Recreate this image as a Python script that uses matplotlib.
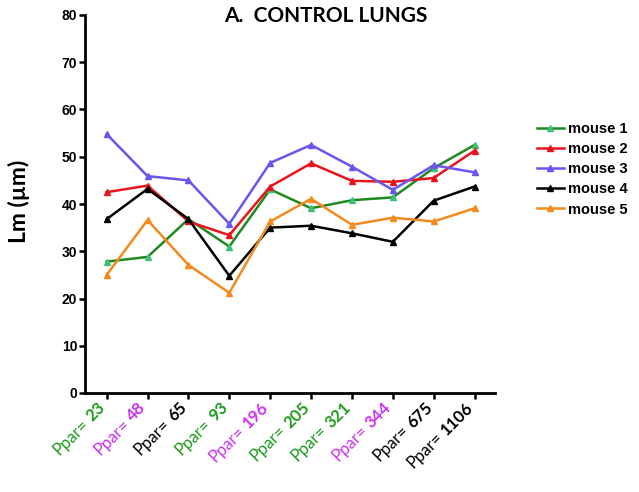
import numpy as np
from matplotlib import pyplot as plt

# Ppar values along the x axis, and the colour each label gets
ppar = ["23", "48", "65", "93", "196", "205", "321", "344", "675", "1106"]
label_colors = ["#1e9a1e", "#cc33ee", "black", "#1e9a1e", "#cc33ee",
                "#1e9a1e", "#1e9a1e", "#cc33ee", "black", "black"]

# Lm (um) for each mouse
mouse1 = [27.8, 28.8, 36.8, 31.0, 43.1, 39.1, 40.8, 41.4, 47.6, 52.5]
mouse2 = [42.5, 43.9, 36.3, 33.4, 43.7, 48.6, 44.9, 44.7, 45.5, 51.3]
mouse3 = [54.8, 45.9, 45.0, 35.8, 48.7, 52.5, 47.9, 43.0, 48.2, 46.7]
mouse4 = [36.8, 43.2, 36.8, 24.8, 35.0, 35.4, 33.8, 32.0, 40.7, 43.7]
mouse5 = [25.0, 36.6, 27.1, 21.2, 36.3, 41.1, 35.6, 37.1, 36.3, 39.1]

series = [
    ("mouse 1", mouse1, "#1f8a1f", "#3cc07a"),
    ("mouse 2", mouse2, "#e8141c", "#e8141c"),
    ("mouse 3", mouse3, "#6a55ee", "#6a55ee"),
    ("mouse 4", mouse4, "black", "black"),
    ("mouse 5", mouse5, "#f28a1e", "#f28a1e"),
]


def main():
    fig = plt.figure(figsize=(6.39, 4.92), dpi=100)
    ax = fig.add_axes([85/639, 1-393/492, 410/639, 378/492])

    x = np.arange(len(ppar))
    for name, vals, col, mcol in series:
        ax.plot(x, vals, color=col, lw=1.8, marker="^", markersize=5,
                markerfacecolor=mcol, markeredgecolor=mcol, label=name)

    ax.set_xlim(-0.53, 9.5)
    ax.set_ylim(0, 80)
    ax.set_yticks(np.arange(0, 81, 10))
    for lab in ax.get_yticklabels():
        lab.set_fontweight("bold")
        lab.set_fontfamily("Liberation Sans")
        lab.set_fontsize(10)

    # x labels: "Ppar=" regular + number bold, rotated 45 deg, so two texts
    ax.set_xticks(x)
    ax.set_xticklabels([])
    renderer = fig.canvas.get_renderer()
    fs = 12
    c45 = np.cos(np.pi / 4)
    px2pt = 72 / fig.dpi
    for i, (p, c) in enumerate(zip(ppar, label_colors)):
        bx, by = -0.5, -15.5  # baseline right end, pixels from tick
        num = ax.annotate(p, xy=(i, 0), xycoords=("data", "axes fraction"),
                          xytext=(bx * px2pt, by * px2pt),
                          textcoords="offset points", rotation=45,
                          ha="right", va="baseline", rotation_mode="anchor",
                          fontsize=fs, fontweight="bold", family="Lato",
                          color=c)
        tmp = fig.text(0, 0, p, fontsize=fs, fontweight="bold", family="Lato")
        w = tmp.get_window_extent(renderer).width + 0.25 * fs / px2pt
        tmp.remove()
        ax.annotate("Ppar=", xy=(i, 0), xycoords=("data", "axes fraction"),
                    xytext=((bx - w * c45) * px2pt, (by - w * c45) * px2pt),
                    textcoords="offset points", rotation=45,
                    ha="right", va="baseline", rotation_mode="anchor",
                    fontsize=fs, family="Lato", color=c)

    ax.spines["top"].set_visible(False)
    ax.spines["right"].set_visible(False)
    ax.spines["left"].set_linewidth(2)
    ax.spines["bottom"].set_linewidth(2)
    ax.tick_params(axis="both", width=1.8, length=4.5, direction="out")
    ax.tick_params(axis="y", pad=1)

    fig.text(326/639, 1-16/492, "A.  CONTROL LUNGS", ha="center", va="center",
             fontsize=15, fontweight="bold", family="Lato")
    fig.text(19/639, 1-201/492, "Lm (µm)", ha="center", va="center",
             rotation=90, fontsize=16.5, fontweight="bold", family="Lato")

    fig.legend(loc="upper left", bbox_to_anchor=(537/639, 1-122/492),
               frameon=False, borderpad=0, borderaxespad=0,
               handlelength=1.85, handletextpad=0.3, labelspacing=0.42,
               markerscale=0.8,
               prop={"family": "Liberation Sans", "size": 10.5,
                     "weight": "bold"})

    plt.savefig("out.png", dpi=100)


if __name__ == '__main__':
    main()
